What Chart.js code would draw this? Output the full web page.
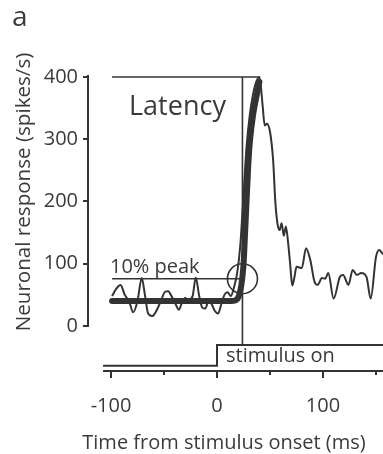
<!DOCTYPE html>
<html>
<head>
<meta charset="utf-8">
<script src="https://cdn.jsdelivr.net/npm/chart.js@4"></script>
<style>
html,body{margin:0;padding:0;background:#fff;}
#wrap{width:383px;height:454px;position:relative;}
</style>
</head>
<body>
<div id="wrap"><canvas id="c" width="383" height="454"></canvas></div>
<script>
// ---- data ----
const traceTime = [-99,-95,-91,-87,-83,-79,-75,-71,-68,-65,-61,-57,-53,-49,-46,-43,-39,-36,-33,-30,-27,-23,-20,-17,-14,-11,-8,-5,-2,1,4,7,10,13,16,19,22,25,28,31,34,37,40,43,45,47,50,53,55,57,59,61,63,65,67,69,71,73,75,80,84,88,92,95,99,102,105,110,116,119,124,128,132,136,141,145,150,153,156,160];
const traceRate = [48,60,66,50,40,22,40,77,50,20,16,25,40,55,56,48,35,26,38,45,42,48,78,50,30,28,40,35,24,20,35,50,54,48,62,85,130,210,290,340,372,392,400,355,322,325,312,265,200,165,154,165,145,160,135,100,65,78,95,93,125,106,71,66,77,76,85,44,79,82,66,90,82,85,79,44,111,122,117,112];
const fitTime = [-99,14,17,19,21,23,25,26.5,28,29.5,31,34,37.5,40];
const fitRate = [40,40,41,43,50,66,98,150,205,259,296,339,371,392];
const stimTime = [-107.5,0,0,160];
const stimLevel = [-64,-64,-30.5,-30.5];
const peakRate = 400;
const peakTime = 40.5;
const baselineStart = -99;
const latencyMs = 24;
const tenPctLevel = 76;
const xTicks = [-100,-50,0,50,100,150];
const xLabeled = [-100,0,100];
const yTicks = [0,100,200,300,400];
const xTitle = 'Time from stimulus onset (ms)';
const yTitle = 'Neuronal response (spikes/s)';
const panelLabel = 'a';

const INK = '#333333';
const TXT = '#3a3a3a';
const FONT = '"Open Sans", "Noto Sans", sans-serif';

const pts = (xs, ys) => xs.map((x, i) => ({x: x, y: ys[i]}));

const decor = {
  id: 'decor',
  afterDraw(chart) {
    const ctx = chart.ctx, xs = chart.scales.x, ys = chart.scales.y, ca = chart.chartArea;
    ctx.save();
    ctx.strokeStyle = INK;
    ctx.lineWidth = 2;
    // y axis line
    ctx.beginPath();
    ctx.moveTo(ca.left, ys.getPixelForValue(403));
    ctx.lineTo(ca.left, ys.getPixelForValue(0) + 1);
    ctx.stroke();
    // x axis line
    ctx.beginPath();
    ctx.moveTo(xs.getPixelForValue(stimTime[0]), ca.bottom);
    ctx.lineTo(ca.right, ca.bottom);
    ctx.stroke();
    // minor x ticks
    xTicks.filter(v => !xLabeled.includes(v)).forEach(v => {
      const px = xs.getPixelForValue(v);
      ctx.beginPath();
      ctx.moveTo(px, ca.bottom);
      ctx.lineTo(px, ca.bottom + 4);
      ctx.stroke();
    });
    // texts
    ctx.fillStyle = TXT;
    ctx.textBaseline = 'alphabetic';
    ctx.textAlign = 'left';
    ctx.font = '28px ' + FONT;
    ctx.fillText(panelLabel, 12, 26);
    ctx.font = '27px ' + FONT;
    ctx.fillText('Latency', xs.getPixelForValue(-83), ys.getPixelForValue(339));
    ctx.font = '20px ' + FONT;
    ctx.fillText('10% peak', xs.getPixelForValue(-101), ys.getPixelForValue(85));
    ctx.fillText('stimulus on', xs.getPixelForValue(8.5), ys.getPixelForValue(-58));
    // axis titles
    ctx.textAlign = 'center';
    ctx.fillText(xTitle, 224, 449);
    ctx.save();
    ctx.translate(24, 192);
    ctx.rotate(-Math.PI / 2);
    ctx.textBaseline = 'middle';
    ctx.font = '20.6px ' + FONT;
    ctx.fillText(yTitle, 0, 0);
    ctx.restore();
    ctx.restore();
  }
};

const lineDs = (data, width, order) => ({
  data: data, borderColor: INK, borderWidth: width, pointRadius: 0, tension: 0, fill: false, order: order
});

new Chart(document.getElementById('c'), {
  type: 'line',
  data: {
    datasets: [
      Object.assign(lineDs(pts(fitTime, fitRate), 6, 0), {cubicInterpolationMode: 'monotone', borderCapStyle: 'round', borderJoinStyle: 'round'}),
      Object.assign(lineDs(pts(traceTime, traceRate), 2, 1), {cubicInterpolationMode: 'monotone'}),
      lineDs([{x: baselineStart, y: peakRate}, {x: peakTime, y: peakRate}], 1.6, 2),
      lineDs([{x: latencyMs, y: peakRate}, {x: latencyMs, y: stimLevel[2]}], 1.6, 2),
      lineDs([{x: baselineStart, y: tenPctLevel}, {x: latencyMs, y: tenPctLevel}], 1.6, 2),
      lineDs(pts(stimTime, stimLevel), 2, 2),
      {data: [{x: latencyMs, y: tenPctLevel}], showLine: false, pointRadius: 15, pointHoverRadius: 15,
       pointBackgroundColor: 'rgba(0,0,0,0)', pointBorderColor: INK, pointBorderWidth: 1.6, order: 2}
    ]
  },
  options: {
    responsive: false,
    animation: false,
    events: [],
    layout: {autoPadding: false, padding: {top: 70, right: 0, left: 0, bottom: 0}},
    plugins: {legend: {display: false}, tooltip: {enabled: false}},
    scales: {
      x: {
        type: 'linear', min: -121.7, max: 156.6,
        afterBuildTicks: s => { s.ticks = xTicks.map(v => ({value: v})); },
        afterFit: s => { s.height = 83; s.paddingLeft = 0; s.paddingRight = 0; },
        border: {display: false},
        grid: {drawOnChartArea: false, drawTicks: true, tickLength: 7, lineWidth: 2,
               color: c => (c.tick && xLabeled.includes(c.tick.value)) ? INK : 'rgba(0,0,0,0)'},
        ticks: {autoSkip: false, maxRotation: 0, padding: 16, color: TXT, font: {family: FONT, size: 20},
                callback: v => xLabeled.includes(v) ? String(v) : ''}
      },
      y: {
        type: 'linear', min: -72.3, max: 411.2,
        afterBuildTicks: s => { s.ticks = yTicks.map(v => ({value: v})); },
        afterFit: s => { s.width = 88; s.paddingTop = 0; s.paddingBottom = 0; },
        border: {display: false},
        grid: {drawOnChartArea: false, drawTicks: true, tickLength: 5, lineWidth: 2, color: INK},
        ticks: {padding: 5, color: TXT, font: {family: FONT, size: 20}}
      }
    }
  },
  plugins: [decor]
});
</script>
</body>
</html>
